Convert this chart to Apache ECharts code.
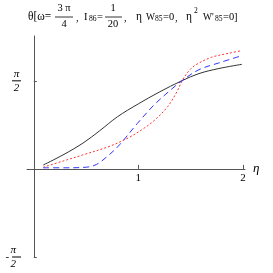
<!DOCTYPE html>
<html><head><meta charset="utf-8">
<script src="https://cdn.jsdelivr.net/npm/echarts@6/dist/echarts.min.js"></script>
<style>html,body{margin:0;padding:0;background:#fff}#c{width:273px;height:273px}</style>
</head><body><div id="c"></div>
<script>
var HALF_PI = Math.PI / 2;
var blackX = [0.09, 0.28, 0.47, 0.63, 0.80, 1.00, 1.20, 1.42, 1.58, 1.77, 1.99];
var blackY = [0.07, 0.25, 0.46, 0.68, 0.93, 1.16, 1.37, 1.576, 1.70, 1.79, 1.865];
var redX = [0.09, 0.28, 0.47, 0.72, 0.91, 1.05, 1.15, 1.28, 1.37, 1.42, 1.48, 1.55, 1.70, 1.86, 1.99];
var redY = [0.03, 0.14, 0.25, 0.40, 0.56, 0.72, 0.86, 1.11, 1.38, 1.576, 1.74, 1.856, 1.99, 2.06, 2.11];
var blueX = [0.09, 0.3, 0.5, 0.6, 0.72, 0.82, 0.99, 1.15, 1.31, 1.42, 1.58, 1.77, 1.99];
var blueY = [0.02, 0.02, 0.03, 0.08, 0.25, 0.43, 0.81, 1.14, 1.41, 1.576, 1.77, 1.89, 2.02];
var xTicks = [1, 2];
var xTickLabels = ['1', '2'];
var yTicks = [-HALF_PI, HALF_PI];

function pairs(xs, ys) { return xs.map(function (x, i) { return [x, ys[i]]; }); }

var FONT = 'Liberation Serif';
function txt(x, y, s, size, align, sx) {
  return { type: 'text', x: x, y: y, scaleX: sx || 0.95, silent: true,
    style: { text: s, fill: '#000', font: (size || 10) + 'px "' + FONT + '"', textAlign: align || 'left', textVerticalAlign: 'middle' } };
}
function bar(x1, x2, y) {
  return { type: 'line', shape: { x1: x1, y1: y, x2: x2, y2: y }, style: { stroke: '#000', lineWidth: 0.8 }, silent: true };
}
var titleEls = [
  txt(28, 17, 'θ[ω=', 12),
  txt(64, 8, '3 π', 11, 'center'),
  bar(55, 73, 17),
  txt(64, 24, '4', 11, 'center'),
  txt(76, 18, ',', 11),
  txt(84, 17, 'I', 11),
  txt(89, 19, '86', 8),
  txt(97, 17, '=', 11),
  txt(113, 8, '1', 11, 'center'),
  bar(105, 122, 17),
  txt(113, 24, '20', 11, 'center'),
  txt(124, 18, ',', 11),
  txt(136, 17, 'η', 12),
  txt(146, 17, 'W', 10),
  txt(155, 19, '85', 8),
  txt(163, 17, '=0', 11),
  txt(175, 18, ',', 11),
  txt(186, 17, 'η', 12),
  txt(194, 11, '2', 8),
  txt(203, 17, "W'", 10),
  txt(215, 19, '85', 8),
  txt(223, 17, '=0]', 11)
];

var chart = echarts.init(document.getElementById('c'), null, { renderer: 'canvas' });
chart.setOption({
  animation: false,
  backgroundColor: '#fff',
  grid: { left: 27, right: 28, top: 36, bottom: 16, containLabel: false },
  xAxis: {
    type: 'value', min: -0.065, max: 2.02,
    axisLine: { onZero: true, lineStyle: { color: '#555', width: 1 } },
    axisTick: { show: true, inside: true, length: 4, customValues: xTicks, lineStyle: { color: '#555' } },
    axisLabel: { show: false },
    splitLine: { show: false },
    name: 'η', nameLocation: 'end', nameGap: 8,
    nameTextStyle: { fontFamily: FONT, fontSize: 13, fontStyle: 'italic', color: '#000', verticalAlign: 'middle' }
  },
  yAxis: {
    type: 'value', min: -HALF_PI, max: 2.37,
    axisLine: { onZero: true, lineStyle: { color: '#555', width: 1 } },
    axisTick: { show: true, inside: true, length: 3, customValues: yTicks, lineStyle: { color: '#555' } },
    axisLabel: {
      customValues: yTicks, margin: 6,
      formatter: function (v) {
        return v < 0 ? '{n|π}\n{m|- }{b| }\n{n|2}' : '{n|π}\n{b| }\n{n|2}';
      },
      rich: {
        n: { width: 9, align: 'center', fontFamily: FONT, fontSize: 11, fontStyle: 'italic', color: '#000', lineHeight: 11 },
        b: { width: 9, height: 1, backgroundColor: '#000', lineHeight: 3, fontSize: 1 },
        m: { fontFamily: FONT, fontSize: 11, color: '#000', lineHeight: 3 }
      }
    },
    splitLine: { show: false }
  },
  series: [
    { type: 'line', data: pairs(blackX, blackY), smooth: 0.35, symbol: 'none', lineStyle: { color: '#333', width: 1 } },
    { type: 'line', data: pairs(redX, redY), smooth: 0.35, symbol: 'none', lineStyle: { color: '#ff3333', width: 1, type: [2, 2] } },
    { type: 'line', data: pairs(blueX, blueY), smooth: 0.35, symbol: 'none', lineStyle: { color: '#3333ff', width: 1, type: [6, 4] } }
  ]
});
var labels = xTicks.map(function (v, i) {
  var p = chart.convertToPixel({ gridIndex: 0 }, [v, 0]);
  return { type: 'text', x: p[0], y: p[1] + 9, silent: true,
    style: { text: xTickLabels[i], fill: '#000', font: '11px "' + FONT + '"', textAlign: 'center', textVerticalAlign: 'middle' } };
});
chart.setOption({ graphic: titleEls.concat(labels) });
</script></body></html>
